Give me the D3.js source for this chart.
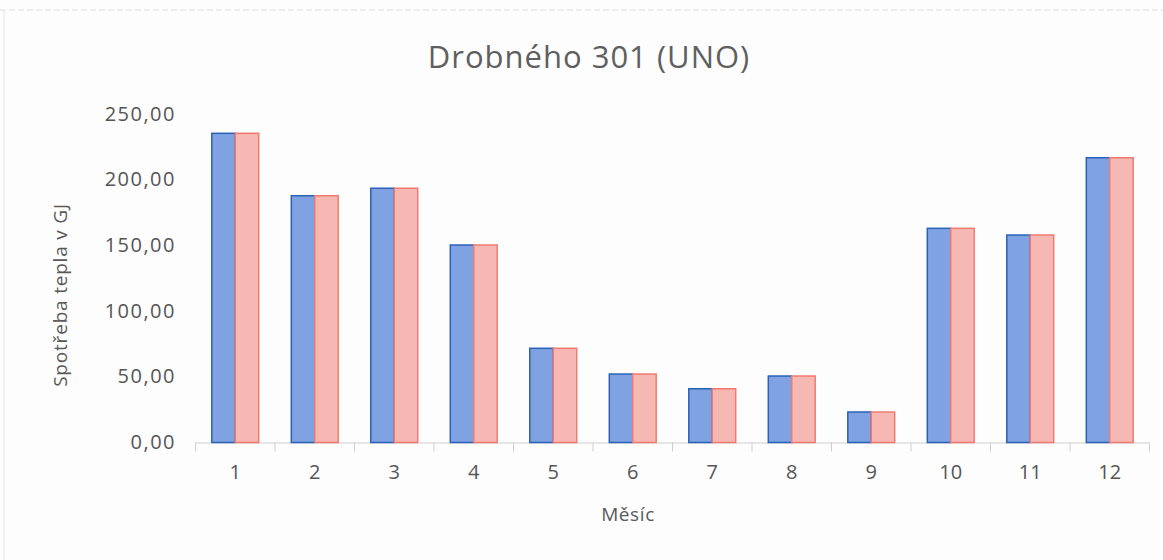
<!DOCTYPE html>
<head>
  <meta charset="utf-8">
  <script src="https://d3js.org/d3.v7.min.js"></script>
  <style>
    body { margin: 0; background: #fdfdfd; }
    svg { display: block; }
    .axis text { font-family: "Open Sans", sans-serif; fill: #555; }
  </style>
</head>
<body>
  <div id="chart"></div>
  <script>
    // monthly heat consumption, two series (they are identical in the source)
    var months = ['1', '2', '3', '4', '5', '6', '7', '8', '9', '10', '11', '12'];
    var seriesA = [235.3, 187.8, 193.5, 150.3, 71.7, 52.1, 40.9, 50.6, 23.2, 163.0, 157.9, 216.7];
    var seriesB = [235.3, 187.8, 193.5, 150.3, 71.7, 52.1, 40.9, 50.6, 23.2, 163.0, 157.9, 216.7];
    var yTicks = [0, 50, 100, 150, 200, 250];

    var width = 1163, height = 560;
    var svg = d3.select("#chart").append("svg")
      .attr("width", width)
      .attr("height", height);

    // faint frame of the scanned chart
    svg.append("line").attr("x1", 0).attr("x2", width).attr("y1", 10).attr("y2", 10)
      .attr("stroke", "#ddd").attr("stroke-dasharray", "6,3");
    svg.append("line").attr("x1", 4).attr("x2", 4).attr("y1", 10).attr("y2", height)
      .attr("stroke", "#e6e6e6");

    var x = d3.scaleBand()
      .domain(months)
      .range([195.5, 1149.5])
      .paddingInner(0.41)
      .paddingOuter(0.205);

    var y = d3.scaleLinear()
      .domain([0, 250])
      .range([442.5, 114]);

    var x2 = d3.scaleBand()
      .domain(['a', 'b'])
      .range([0, x.bandwidth()]);

    // y axis labels only
    var yAxis = svg.append("g").attr("class", "axis")
      .attr("transform", "translate(176,0)")
      .call(d3.axisLeft(y).tickValues(yTicks).tickSize(0).tickPadding(0)
        .tickFormat(function(d) { return d3.format(".2f")(d).replace(".", ","); }));
    yAxis.select(".domain").remove();
    yAxis.selectAll("text")
      .attr("font-size", "20px")
      .attr("letter-spacing", "1.5px")
      .attr("dy", "0.3em");

    // x axis
    var xAxis = svg.append("g").attr("class", "axis")
      .attr("transform", "translate(0," + y(0) + ")")
      .call(d3.axisBottom(x).tickSize(0).tickPadding(22));
    xAxis.select(".domain").attr("stroke", "#cfcfcf");
    xAxis.selectAll("text").attr("font-size", "20px");
    // category boundary ticks
    var bounds = months.map(function(m) { return x(m) - x.step() * x.paddingInner() / 2; });
    bounds.push(x.range()[1]);
    svg.append("g").selectAll("line")
      .data(bounds)
      .join("line")
      .attr("x1", function(d) { return d; })
      .attr("x2", function(d) { return d; })
      .attr("y1", y(0))
      .attr("y2", y(0) + 9)
      .attr("stroke", "#cfcfcf");

    // bars
    var groups = svg.append("g").selectAll("g")
      .data(months)
      .join("g")
      .attr("transform", function(d) { return "translate(" + x(d) + ",0)"; });

    groups.append("rect")
      .attr("x", x2('a'))
      .attr("y", function(d, i) { return y(seriesA[i]); })
      .attr("width", x2.bandwidth())
      .attr("height", function(d, i) { return y(0) - y(seriesA[i]); })
      .attr("fill", "#7ea2e2")
      .attr("stroke", "#2b62b8")
      .attr("stroke-width", 1.5);

    groups.append("rect")
      .attr("x", x2('b'))
      .attr("y", function(d, i) { return y(seriesB[i]); })
      .attr("width", x2.bandwidth())
      .attr("height", function(d, i) { return y(0) - y(seriesB[i]); })
      .attr("fill", "#f6b8b2")
      .attr("stroke", "#f07a72")
      .attr("stroke-width", 1.5);

    // titles
    svg.append("text")
      .attr("x", 589)
      .attr("y", 68)
      .attr("text-anchor", "middle")
      .attr("font-family", "Open Sans, sans-serif")
      .attr("font-size", "31px")
      .attr("letter-spacing", "1px")
      .attr("fill", "#5f5f5f")
      .text("Drobného 301 (UNO)");

    svg.append("text")
      .attr("x", 628)
      .attr("y", 521)
      .attr("text-anchor", "middle")
      .attr("font-family", "Open Sans, sans-serif")
      .attr("font-size", "19px")
      .attr("letter-spacing", "0.6px")
      .attr("fill", "#595959")
      .text("Měsíc");

    svg.append("text")
      .attr("transform", "translate(67,295) rotate(-90)")
      .attr("text-anchor", "middle")
      .attr("font-family", "Open Sans, sans-serif")
      .attr("font-size", "19px")
      .attr("letter-spacing", "0.8px")
      .attr("fill", "#595959")
      .text("Spotřeba tepla v GJ");
  </script>
</body>
